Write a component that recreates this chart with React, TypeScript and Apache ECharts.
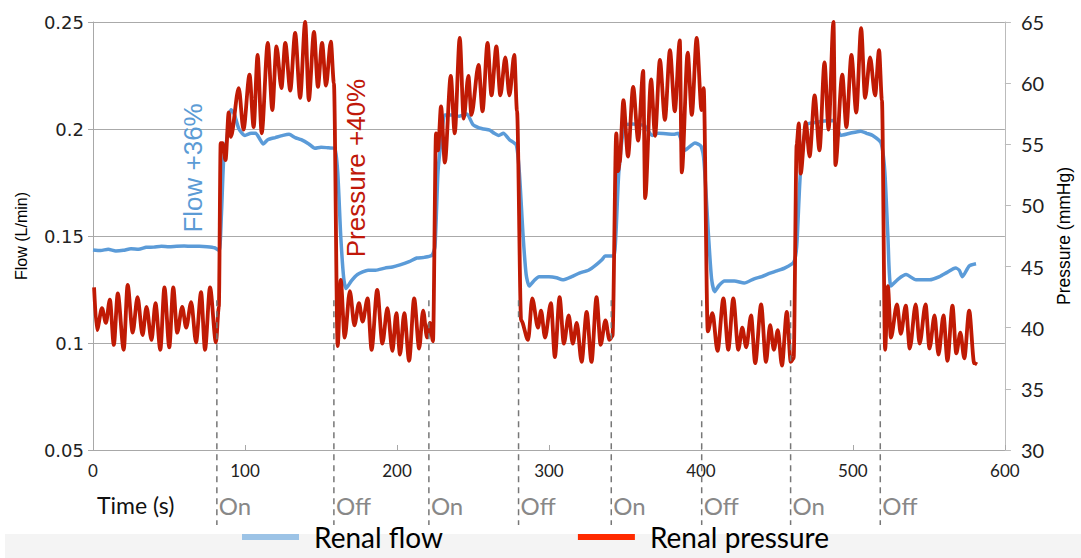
import React, { useEffect, useRef } from "react";
import * as echarts from "echarts";

const seriesNames = ["Renal flow", "Renal pressure"];

const flowData: [number, number][] = [
  [0, 0.1435], [5, 0.1432], [10, 0.1438], [15, 0.143], [20, 0.1433], [25, 0.144], [30, 0.1438],
  [35, 0.1447], [40, 0.1448], [45, 0.1452], [50, 0.145], [55, 0.1452], [60, 0.1453], [65, 0.1452],
  [70, 0.1452], [75, 0.145], [80, 0.1445], [83, 0.1432], [84.5, 0.16], [86, 0.186], [88, 0.195],
  [90, 0.207], [91, 0.209], [93, 0.207], [96, 0.2], [100, 0.197], [104, 0.198], [107, 0.198],
  [110, 0.195], [112, 0.193], [115, 0.195], [120, 0.196], [125, 0.197], [129, 0.1975], [133, 0.196],
  [137, 0.195], [142, 0.193], [146, 0.191], [150, 0.1915], [155, 0.1912], [159, 0.191], [161, 0.18],
  [163, 0.15], [165, 0.13], [166.5, 0.1255], [170, 0.129], [174, 0.132], [181, 0.134], [186, 0.134],
  [192, 0.135], [197, 0.1355], [202, 0.1365], [208, 0.138], [213, 0.1397], [218, 0.14], [223, 0.141],
  [225, 0.145], [227, 0.18], [229, 0.194], [231.5, 0.2065], [236, 0.2065], [241, 0.206], [246, 0.207],
  [250, 0.202], [254, 0.2005], [257, 0.2], [261, 0.1995], [264, 0.198], [267, 0.197], [270, 0.198],
  [274, 0.195], [278.5, 0.1925], [280.5, 0.18], [283, 0.15], [285, 0.132], [287, 0.1266], [290, 0.129],
  [293.5, 0.131], [300, 0.131], [305, 0.1305], [309, 0.1295], [315, 0.131], [320, 0.1327], [326, 0.134],
  [331, 0.1365], [335, 0.139], [337, 0.1407], [342.5, 0.1407], [344, 0.15], [346, 0.18], [350, 0.202],
  [355, 0.2023], [360, 0.202], [363, 0.2015], [368, 0.197], [372, 0.198], [377, 0.1978], [382, 0.1975],
  [385, 0.198], [387, 0.195], [389.5, 0.19], [393, 0.192], [396, 0.1935], [400, 0.192], [402, 0.185],
  [405, 0.15], [407, 0.13], [409, 0.124], [412, 0.127], [415.5, 0.129], [422, 0.129], [428.5, 0.128],
  [435, 0.13], [440, 0.131], [445, 0.1325], [450, 0.1337], [455, 0.135], [461, 0.1377], [463, 0.145],
  [465.5, 0.18], [469.6, 0.202], [475, 0.203], [481, 0.2037], [487, 0.204], [492, 0.197], [498, 0.198],
  [505, 0.199], [509, 0.198], [513, 0.197], [518.5, 0.1935], [521, 0.18], [523, 0.15], [525, 0.1266],
  [530, 0.13], [535, 0.132], [541.5, 0.1295], [550.5, 0.1295], [557, 0.131], [562, 0.133], [567.5, 0.135],
  [570, 0.134], [572, 0.131], [576.5, 0.136], [581, 0.137],
];

const pressureData: [number, number][] = [
  [0.7, 43.3], [2.6, 39.8], [5.9, 41.6], [8.5, 40.4], [11.1, 42.3], [13.7, 38.6], [16.3, 42.8],
  [20.2, 38.2], [22.8, 43.5], [26.1, 39.6], [29.3, 42.5], [32.6, 39.4], [35.2, 41.7], [38.5, 39.0],
  [41.1, 42.0], [44.3, 38.2], [47.0, 43.3], [50.2, 38.4], [52.8, 43.3], [55.4, 39.6], [58.7, 41.7],
  [61.3, 40.0], [64.6, 42.1], [67.8, 38.8], [71.1, 42.9], [73.7, 38.2], [77.0, 43.3], [80.9, 38.8],
  [82.8, 41.7],
  [84, 55.1], [85.3, 55.1], [87.2, 53.7], [89.3, 57.6], [90.7, 55.6], [95.9, 59.6], [99, 56.2],
  [103, 60.7], [105.7, 56.4], [108.3, 62.3], [111, 55.9], [115, 63.3], [118, 57.8], [120.7, 63.0],
  [124, 59.6], [126.5, 63.3], [129.8, 59.4], [133, 64.1], [136.3, 58.8], [139.6, 65.0], [142, 58.6],
  [145.4, 64.2], [148, 59.7], [150.7, 63.3], [153.3, 59.8], [156.5, 63.4], [158.5, 60.0],
  [161, 38.5], [163, 43.9], [165.6, 39.2], [169, 43.0], [172, 40.2], [175, 42.0], [177.4, 40.5],
  [180.7, 42.4], [183.3, 38.2], [187, 43.1], [190.4, 38.7], [193.7, 41.6], [197, 38.1], [199.6, 41.2],
  [202, 37.8], [204.8, 41.2], [208, 37.3], [211.3, 42.4], [214.6, 38.3], [217.2, 41.4], [219.8, 39.2],
  [221.7, 40.4], [223.7, 38.9],
  [225.7, 55.9], [227, 54.5], [229, 58.1], [231.5, 53.5], [235.4, 60.6], [238, 55.9], [241.3, 63.7],
  [243.9, 57.1], [247, 60.6], [249, 57.4], [253.7, 61.5], [256.3, 57.7], [259.6, 63.3], [262.2, 59.0],
  [265.4, 63.0], [268, 59.0], [271.3, 62.1], [274, 59.0], [277.2, 62.3], [279, 57.7],
  [281.7, 40.6], [286.3, 39.0], [289, 42.4], [292.8, 40.0], [294.8, 41.4], [297.4, 39.2], [301.3, 42.0],
  [303.9, 37.6], [307, 42.5], [309.8, 38.7], [313, 41.0], [315.7, 38.7], [318.3, 40.4], [321.5, 37.2],
  [324.8, 41.3], [328, 37.2], [331.3, 42.5], [334, 38.6], [337.2, 40.6], [339.8, 39.0], [341.8, 39.3],
  [344.3, 55.9], [345.6, 52.8], [346.5, 53.5], [349, 58.6], [352, 54.0], [355.4, 59.7], [358.7, 55.3],
  [362, 61.0], [363.3, 50.6], [367.2, 60.3], [369.8, 55.7], [373, 61.9], [376.3, 57.0], [379.6, 62.7],
  [382.8, 57.7], [386.1, 63.5], [387.4, 52.7], [391.3, 62.5], [394, 57.4], [397.2, 63.7], [400.4, 57.8],
  [401.8, 59.6],
  [404.5, 39.7], [407.6, 41.2], [410.9, 38.1], [414.8, 42.4], [418, 38.2], [421.3, 42.4], [424.6, 38.2],
  [427.2, 40.0], [429.8, 38.4], [433, 41.0], [435.7, 37.1], [439.6, 41.9], [442.8, 37.2], [445.5, 40.2],
  [448, 38.2], [450.6, 39.8], [453.3, 36.9], [456.5, 41.3], [459.1, 37.2], [461, 37.5],
  [463, 55.0], [464.4, 56.7], [465.6, 52.6], [469, 56.8], [471.5, 54.0], [474.8, 59.0], [478, 54.5],
  [481.3, 61.7], [484, 56.2], [487.2, 65.0], [488.5, 53.3], [493, 60.7], [495.7, 56.4], [499, 62.3],
  [502.2, 57.6], [505.4, 64.5], [508, 58.8], [511.3, 62.1], [514.6, 59.0], [517.2, 62.7], [519.1, 58.6],
  [521.2, 38.2], [523, 43.4], [525, 39.2], [529, 41.9], [531.5, 39.5], [534.8, 41.8], [537.4, 38.3],
  [541.3, 41.9], [543.9, 38.7], [547.8, 41.9], [550.4, 38.3], [553.7, 41.0], [556.3, 37.8], [559.6, 41.0],
  [562.2, 37.3], [565.5, 41.8], [568, 37.9], [570.7, 39.6], [573.3, 37.5], [576.5, 41.4], [579.8, 37.1],
  [581.7, 37.0],
];

const switchTimes = [81.5, 158.5, 221, 280, 341, 400.5, 459, 518];
const switchLabels = ["On", "Off", "On", "Off", "On", "Off", "On", "Off"];

const annotations = [
  { text: "Flow +36%", t: 65.5, axis: 0, v: 0.1818, color: "#5b9bd5" },
  { text: "Pressure +40%", t: 172.8, axis: 1, v: 53.06, color: "#c0180a" },
];

const FLOW_COLOR = "#5b9bd8";
const PRESSURE_COLOR = "#c01a04";

export default function App() {
  const ref = useRef<HTMLDivElement>(null);
  useEffect(() => {
    const chart = echarts.init(ref.current!, null, { renderer: "svg" });
    const axisGray = "#a8a8a8";
    chart.setOption({
      animation: false,
      backgroundColor: "#ffffff",
      grid: { left: 93, right: 68, top: 22, bottom: 108, containLabel: false },
      legend: {
        left: 242,
        top: 523,
        padding: 0,
        icon: "rect",
        itemWidth: 57,
        itemHeight: 6,
        itemGap: 135,
        z: 10,
        textStyle: {
          fontFamily: "Lato",
          fontSize: 28,
          color: "#000",
          padding: [0, 0, 0, 10],
          lineHeight: 28,
        },
        data: [
          { name: seriesNames[0], itemStyle: { color: "#9cc3e6" } },
          { name: seriesNames[1], itemStyle: { color: "#ff2a00" } },
        ],
      },
      xAxis: {
        type: "value",
        min: 0,
        max: 600,
        interval: 100,
        axisLine: { show: true, lineStyle: { color: axisGray } },
        axisTick: { show: true, inside: true, length: 5, lineStyle: { color: axisGray } },
        splitLine: { show: false },
        axisLabel: { fontFamily: "Lato", fontSize: 17, color: "#222", margin: 12 },
      },
      yAxis: [
        {
          type: "value",
          min: 0.05,
          max: 0.25,
          interval: 0.05,
          name: "Flow (L/min)",
          nameLocation: "middle",
          nameRotate: 90,
          nameGap: 64,
          nameTextStyle: { fontFamily: "Liberation Sans", fontSize: 16, color: "#000" },
          axisLine: { show: true, lineStyle: { color: axisGray } },
          axisTick: { show: true, length: 5, lineStyle: { color: axisGray } },
          splitLine: { show: true, lineStyle: { color: "#aaaaaa", width: 1 } },
          axisLabel: {
            fontFamily: "DejaVu Sans",
            fontSize: 18,
            color: "#222",
            margin: 9,
            formatter: (v: number) => String(+v.toFixed(2)),
          },
        },
        {
          type: "value",
          min: 30,
          max: 65,
          interval: 5,
          position: "right",
          name: "Pressure (mmHg)",
          nameLocation: "middle",
          nameRotate: 90,
          nameGap: 48,
          nameTextStyle: { fontFamily: "Liberation Sans", fontSize: 17.5, color: "#000" },
          axisLine: { show: true, lineStyle: { color: "#bbbbbb" } },
          axisTick: { show: true, length: 6, lineStyle: { color: "#bbbbbb" } },
          splitLine: { show: false },
          axisLabel: { fontFamily: "Lato", fontSize: 20, color: "#222", margin: 16 },
        },
      ],
      series: [
        {
          name: seriesNames[0],
          type: "line",
          yAxisIndex: 0,
          showSymbol: false,
          smooth: 0.2,
          lineStyle: { color: FLOW_COLOR, width: 3.5 },
          itemStyle: { color: FLOW_COLOR },
          data: flowData,
          z: 2,
        },
        {
          name: seriesNames[1],
          type: "line",
          yAxisIndex: 1,
          showSymbol: false,
          smooth: 0.3,
          smoothMonotone: "x",
          lineStyle: { color: PRESSURE_COLOR, width: 3.8 },
          itemStyle: { color: PRESSURE_COLOR },
          data: pressureData,
          z: 3,
        },
      ],
    });

    const yTop = chart.convertToPixel({ yAxisIndex: 0 }, 0.12) as number;
    const yAxisBottom = chart.convertToPixel({ yAxisIndex: 0 }, 0.05) as number;
    const graphics: any[] = [
      {
        type: "rect",
        shape: { x: 5, y: 534, width: 1076, height: 24 },
        style: { fill: "#f4f4f4" },
        z: -10,
        silent: true,
      },
      {
        type: "text",
        x: 97,
        y: 505,
        style: {
          text: "Time (s)",
          fontFamily: "Lato",
          fontSize: 23,
          lineHeight: 23,
          fill: "#111",
          verticalAlign: "middle",
          align: "left",
        },
      },
    ];
    switchTimes.forEach((t, i) => {
      const x = chart.convertToPixel({ xAxisIndex: 0 }, t) as number;
      graphics.push({
        type: "line",
        shape: { x1: x, y1: yTop, x2: x, y2: yAxisBottom + 75 },
        style: { stroke: "#777", lineWidth: 1.5, lineDash: [6, 5] },
        z: 5,
      });
      graphics.push({
        type: "text",
        x: x + 2,
        y: 505,
        style: {
          text: switchLabels[i],
          fontFamily: "Lato",
          fontSize: 24,
          lineHeight: 24,
          fill: "#888",
          verticalAlign: "middle",
          align: "left",
        },
      });
    });
    annotations.forEach((a) => {
      const x = chart.convertToPixel({ xAxisIndex: 0 }, a.t) as number;
      const y = chart.convertToPixel({ yAxisIndex: a.axis }, a.v) as number;
      graphics.push({
        type: "text",
        x,
        y,
        rotation: Math.PI / 2,
        style: {
          text: a.text,
          fontFamily: "Liberation Sans",
          fontSize: 26,
          fill: a.color,
          align: "center",
          verticalAlign: "middle",
        },
        z: 6,
      });
    });
    chart.setOption({ graphic: graphics });
    return () => chart.dispose();
  }, []);
  return (
    <div
      ref={ref}
      style={{ position: "fixed", left: 0, top: 0, width: 1081, height: 558 }}
    />
  );
}
